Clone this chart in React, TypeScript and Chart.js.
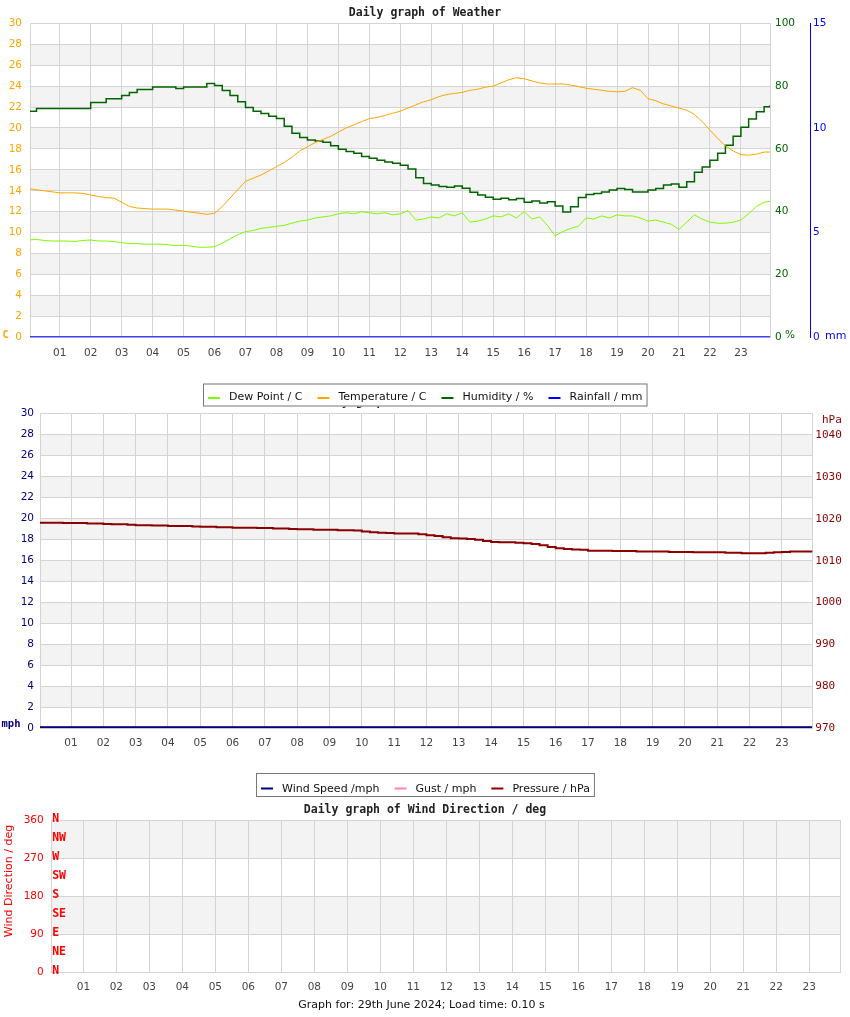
import { useEffect, useRef } from 'react';
import { Chart, registerables } from 'chart.js';

Chart.register(...registerables);

// ---------- data ----------
const HOUR_TICKS = [1, 2, 3, 4, 5, 6, 7, 8, 9, 10, 11, 12, 13, 14, 15, 16, 17, 18, 19, 20, 21, 22, 23];
const X_MIN = 0.04;
const X_MAX = 23.94;
// quarter-hour sample times (hours) + last reading
const TIMES = Array.from({ length: 96 }, (_, i) => i / 4).concat([23.94]);
const HOURLY_TIMES = [0, 1, 2, 3, 4, 5, 6, 7, 8, 9, 10, 11, 12, 13, 14, 15, 16, 17, 18, 19, 20, 21, 22, 23, 23.94];

const TEMPERATURE = [
  14.2, 14.1, 14.0, 13.9,
  13.8, 13.8, 13.8, 13.75,
  13.6, 13.45, 13.35, 13.3,
  12.9, 12.5, 12.35, 12.3,
  12.25, 12.25, 12.25, 12.15,
  12.05, 11.95, 11.85, 11.75,
  11.85, 12.5, 13.3, 14.1,
  14.9, 15.2, 15.5, 15.9,
  16.3, 16.7, 17.2, 17.8,
  18.2, 18.6, 18.9, 19.2,
  19.6, 20.0, 20.3, 20.6,
  20.9, 21.0, 21.2, 21.4,
  21.6, 21.9, 22.2, 22.5,
  22.7, 23.0, 23.2, 23.3,
  23.4, 23.6, 23.7, 23.9,
  24.0, 24.3, 24.6, 24.8,
  24.7, 24.5, 24.3, 24.2,
  24.2, 24.2, 24.1, 23.95,
  23.8, 23.7, 23.6, 23.5,
  23.45, 23.5, 23.85, 23.6,
  22.8, 22.6, 22.3, 22.1,
  21.9, 21.7, 21.3, 20.6,
  19.8, 19.0, 18.3, 17.8,
  17.45, 17.4, 17.5, 17.7,
  17.7,
];

const DEW_POINT = [
  9.3, 9.35, 9.25, 9.2,
  9.2, 9.2, 9.15, 9.25,
  9.3, 9.2, 9.2, 9.15,
  9.05, 8.95, 8.95, 8.9,
  8.9, 8.9, 8.85, 8.75,
  8.8, 8.7, 8.6, 8.6,
  8.65, 9.0, 9.4, 9.8,
  10.1, 10.2, 10.4, 10.5,
  10.6, 10.7, 10.9, 11.1,
  11.2, 11.4, 11.5, 11.6,
  11.8, 11.9, 11.8, 12.0,
  11.9, 11.8, 11.9, 11.7,
  11.8, 12.1, 11.2, 11.3,
  11.5, 11.4, 11.8, 11.6,
  11.9, 11.0, 11.1, 11.3,
  11.6, 11.5, 11.8, 11.4,
  12.0, 11.3, 11.5, 10.7,
  9.7, 10.1, 10.4, 10.6,
  11.4, 11.3, 11.6, 11.4,
  11.7, 11.6, 11.6, 11.4,
  11.1, 11.2, 11.0, 10.8,
  10.3, 11.0, 11.7, 11.3,
  11.0, 10.9, 10.9, 11.0,
  11.2, 11.8, 12.5, 12.9,
  13.0,
];

const HUMIDITY = [
  72.0, 72.9, 72.9, 72.9,
  72.9, 72.9, 72.9, 72.9,
  74.8, 74.8, 76.0, 76.0,
  77.0, 78.0, 78.9, 78.9,
  79.7, 79.7, 79.7, 79.2,
  79.7, 79.7, 79.7, 80.8,
  80.2, 78.6, 77.0, 75.0,
  73.2, 72.0, 71.3, 70.4,
  69.7, 67.2, 65.0, 63.6,
  62.8, 62.5, 62.1, 61.0,
  59.9, 59.2, 58.6, 57.6,
  57.0, 56.4, 55.8, 55.4,
  54.8, 53.6, 50.8, 49.0,
  48.5, 48.0, 47.8, 48.2,
  47.5, 46.2, 45.3, 44.6,
  44.0, 44.3, 43.8, 44.2,
  43.0, 43.4, 42.8, 43.2,
  41.8, 39.9, 41.6, 44.5,
  45.5, 45.8, 46.3, 46.9,
  47.4, 47.1, 46.3, 46.3,
  46.9, 47.4, 48.5, 48.8,
  47.8, 49.5, 52.6, 54.2,
  56.4, 58.6, 61.2, 64.0,
  66.9, 69.5, 71.8, 73.4,
  73.9,
];

const RAINFALL = [0, 0, 0, 0, 0, 0, 0, 0, 0, 0, 0, 0, 0, 0, 0, 0, 0, 0, 0, 0, 0, 0, 0, 0, 0];

const WIND_SPEED = [0.1, 0.1, 0.1, 0.1, 0.1, 0.1, 0.1, 0.1, 0.1, 0.1, 0.1, 0.1, 0.1, 0.1, 0.1, 0.1, 0.1, 0.1, 0.1, 0.1, 0.1, 0.1, 0.1, 0.1, 0.1];
const GUST = [0.1, 0.1, 0.1, 0.1, 0.1, 0.1, 0.1, 0.1, 0.1, 0.1, 0.1, 0.1, 0.1, 0.1, 0.1, 0.1, 0.1, 0.1, 0.1, 0.1, 0.1, 0.1, 0.1, 0.1, 0.1];

const PRESSURE = [
  1019.1, 1019.1, 1019.1, 1019.0,
  1019.0, 1019.0, 1018.9, 1018.9,
  1018.8, 1018.7, 1018.7, 1018.6,
  1018.5, 1018.5, 1018.4, 1018.4,
  1018.3, 1018.3, 1018.3, 1018.2,
  1018.1, 1018.1, 1018.0, 1018.0,
  1017.9, 1017.9, 1017.9, 1017.8,
  1017.8, 1017.7, 1017.7, 1017.6,
  1017.5, 1017.5, 1017.4, 1017.4,
  1017.4, 1017.3, 1017.3, 1017.2,
  1017.0, 1016.8, 1016.7, 1016.6,
  1016.5, 1016.5, 1016.5, 1016.3,
  1016.1, 1015.9, 1015.6, 1015.4,
  1015.3, 1015.2, 1015.0, 1014.7,
  1014.5, 1014.4, 1014.4, 1014.3,
  1014.2, 1014.0, 1013.7, 1013.3,
  1013.0, 1012.8, 1012.7, 1012.6,
  1012.4, 1012.4, 1012.4, 1012.3,
  1012.3, 1012.3, 1012.2, 1012.2,
  1012.2, 1012.2, 1012.1, 1012.1,
  1012.1, 1012.0, 1012.0, 1012.0,
  1012.0, 1011.9, 1011.9, 1011.8,
  1011.8, 1011.8, 1011.9, 1012.0,
  1012.1, 1012.2, 1012.2, 1012.2,
  1012.1,
];

const HPA_TICKS = [970, 980, 990, 1000, 1010, 1020, 1030, 1040];
const COMPASS_LABELS = ['N', 'NE', 'E', 'SE', 'S', 'SW', 'W', 'NW', 'N'];
const COMPASS_DEGREES = [0, 45, 90, 135, 180, 225, 270, 315, 360];

// ---------- styles ----------
const GRID = '#d4d4d4';
const BAND = '#f3f3f3';
const ORANGE = '#ffa500';
const DEW_GREEN = '#7cfc00';
const DARK_GREEN = '#006400';
const BLUE = '#0000ff';
const NAVY = '#000080';
const PINK = '#ff88a8';
const DARK_RED = '#8b0000';
const RED = '#ff0000';
const TICK_FONT = { family: 'DejaVu Sans', size: 10.5 };
const TITLE_FONT = { family: 'DejaVu Sans Mono', size: 11.5, weight: 'bold' as const };
const LEGEND_FONT = '11px "DejaVu Sans"';

const xy = (xs: number[], ys: number[]) => ys.map((y, i) => ({ x: xs[i], y }));

function xAxis(padding: number) {
  return {
    type: 'linear',
    min: X_MIN,
    max: X_MAX,
    afterBuildTicks: (s: any) => {
      s.ticks = HOUR_TICKS.map((v) => ({ value: v }));
    },
    afterFit: (s: any) => {
      s.height = 30;
    },
    ticks: {
      color: '#444',
      font: TICK_FONT,
      padding,
      autoSkip: false,
      maxRotation: 0,
      callback: (v: any) => String(v).padStart(2, '0'),
    },
    grid: { color: GRID, drawTicks: false },
    border: { color: GRID },
  };
}

function makeBands(scaleId: string) {
  return {
    id: 'bands',
    beforeDraw(chart: any) {
      const s = chart.scales[scaleId];
      const { left, right } = chart.chartArea;
      const ctx = chart.ctx;
      ctx.save();
      ctx.fillStyle = BAND;
      for (let i = 1; i < s.ticks.length - 1; i += 2) {
        const a = s.getPixelForValue(s.ticks[i].value);
        const b = s.getPixelForValue(s.ticks[i + 1].value);
        ctx.fillRect(left, Math.min(a, b), right - left, Math.abs(b - a));
      }
      ctx.restore();
    },
  };
}

type TextItem = { text: string; x: number; y: number; color: string; font: string; align?: string; baseline?: string; rotate?: number };

function makeTexts(items: TextItem[]) {
  return {
    id: 'texts',
    afterDraw(chart: any) {
      const ctx = chart.ctx;
      for (const t of items) {
        ctx.save();
        ctx.font = t.font;
        ctx.fillStyle = t.color;
        ctx.textAlign = t.align || 'left';
        ctx.textBaseline = t.baseline || 'alphabetic';
        ctx.translate(t.x, t.y);
        if (t.rotate) ctx.rotate(t.rotate);
        ctx.fillText(t.text, 0, 0);
        ctx.restore();
      }
    },
  };
}

function makeBoxLegend(cfg: { boxTop: number; boxHeight: number; baseline: number; markerY: number; centerX: number }) {
  return {
    id: 'boxLegend',
    afterDraw(chart: any) {
      const ctx = chart.ctx;
      const items = chart.data.datasets.map((d: any) => ({ label: d.label, color: d.borderColor }));
      ctx.save();
      ctx.font = LEGEND_FONT;
      const widths = items.map((it: any) => ctx.measureText(it.label).width);
      const MARK = 12, GAP = 9, SEP = 15, PAD = 5;
      const total = PAD * 2 + widths.reduce((a: number, w: number) => a + MARK + GAP + w, 0) + SEP * (items.length - 1);
      const left = Math.round(cfg.centerX - total / 2);
      ctx.fillStyle = '#ffffff';
      ctx.fillRect(left, cfg.boxTop, total, cfg.boxHeight);
      ctx.strokeStyle = '#777';
      ctx.lineWidth = 1;
      ctx.strokeRect(left + 0.5, cfg.boxTop + 0.5, total - 1, cfg.boxHeight - 1);
      let x = left + PAD;
      items.forEach((it: any, i: number) => {
        ctx.fillStyle = it.color;
        ctx.fillRect(x, cfg.markerY - 1, MARK, 2);
        x += MARK + GAP;
        ctx.fillStyle = '#111';
        ctx.textBaseline = 'alphabetic';
        ctx.textAlign = 'left';
        ctx.fillText(it.label, x, cfg.baseline);
        x += widths[i] + SEP;
      });
      ctx.restore();
    },
  };
}

const compassPlugin = {
  id: 'compass',
  afterDraw(chart: any) {
    const s = chart.scales.yDir;
    const ctx = chart.ctx;
    ctx.save();
    ctx.font = 'bold 11.5px "DejaVu Sans Mono"';
    ctx.fillStyle = RED;
    ctx.textBaseline = 'alphabetic';
    COMPASS_LABELS.forEach((lab, i) => {
      ctx.fillText(lab, chart.chartArea.left + 0.5, s.getPixelForValue(COMPASS_DEGREES[i]) + 2);
    });
    ctx.restore();
  },
};

const baseOptions = {
  responsive: false,
  animation: false,
  events: [],
};

function config1(): any {
  return {
    type: 'line',
    data: {
      datasets: [
        { label: 'Dew Point / C', data: xy(TIMES, DEW_POINT), borderColor: DEW_GREEN, borderWidth: 1, pointRadius: 0, yAxisID: 'yC' },
        { label: 'Temperature / C', data: xy(TIMES, TEMPERATURE), borderColor: ORANGE, borderWidth: 1, pointRadius: 0, yAxisID: 'yC' },
        { label: 'Humidity / %', data: xy(TIMES, HUMIDITY), borderColor: DARK_GREEN, borderWidth: 1.5, pointRadius: 0, stepped: true, yAxisID: 'yH' },
        { label: 'Rainfall / mm', data: xy(HOURLY_TIMES, RAINFALL), borderColor: BLUE, borderWidth: 2, pointRadius: 0, yAxisID: 'yR' },
      ],
    },
    options: {
      ...baseOptions,
      layout: { padding: { left: 0, right: 0, top: 0, bottom: 44.7 } },
      plugins: {
        legend: { display: false },
        tooltip: { enabled: false },
        title: { display: true, text: 'Daily graph of Weather', font: TITLE_FONT, color: '#222', padding: { top: 6, bottom: 3.5 } },
      },
      scales: {
        x: xAxis(9.5),
        yC: {
          type: 'linear', position: 'left', min: 0, max: 30,
          ticks: { stepSize: 2, color: ORANGE, font: TICK_FONT, padding: 8 },
          grid: { color: GRID, drawTicks: false },
          border: { color: GRID },
          afterFit: (s: any) => { s.width = 30; },
        },
        yH: {
          type: 'linear', position: 'right', min: 0, max: 100, weight: 0,
          ticks: { stepSize: 20, color: DARK_GREEN, font: TICK_FONT, padding: 5 },
          grid: { drawOnChartArea: false, drawTicks: false },
          border: { color: GRID },
          afterFit: (s: any) => { s.width = 40; },
        },
        yR: {
          type: 'linear', position: 'right', min: 0, max: 15, weight: 1,
          ticks: { stepSize: 5, color: BLUE, font: TICK_FONT, padding: 3 },
          grid: { drawOnChartArea: false, drawTicks: false },
          border: { color: BLUE },
          afterFit: (s: any) => { s.width = 40; },
        },
      },
    },
    plugins: [
      makeBands('yC'),
      makeTexts([
        { text: 'C', x: 2.5, y: 337.5, color: ORANGE, font: 'bold 10px "DejaVu Sans Mono"' },
        { text: '%', x: 785, y: 338, color: DARK_GREEN, font: '10.5px "DejaVu Sans"' },
        { text: 'mm', x: 825, y: 338.5, color: BLUE, font: '11px "DejaVu Sans"' },
      ]),
      makeBoxLegend({ boxTop: 383.5, boxHeight: 23, baseline: 400, markerY: 398, centerX: 425.5 }),
    ],
  };
}

function config2(): any {
  return {
    type: 'line',
    data: {
      datasets: [
        { label: 'Wind Speed /mph', data: xy(HOURLY_TIMES, WIND_SPEED), borderColor: NAVY, borderWidth: 2, pointRadius: 0, yAxisID: 'yW' },
        { label: 'Gust / mph', data: xy(HOURLY_TIMES, GUST), borderColor: PINK, borderWidth: 2, pointRadius: 0, yAxisID: 'yW' },
        { label: 'Pressure / hPa', data: xy(TIMES, PRESSURE), borderColor: DARK_RED, borderWidth: 2, pointRadius: 0, stepped: true, yAxisID: 'yP' },
      ],
    },
    options: {
      ...baseOptions,
      layout: { padding: { left: 0, right: 0, top: 0, bottom: 43.7 } },
      plugins: {
        legend: { display: false },
        tooltip: { enabled: false },
        title: { display: true, text: 'Daily graph of Wind and Pressure', font: TITLE_FONT, color: '#222', padding: { top: 14.8, bottom: 4.7 } },
      },
      scales: {
        x: xAxis(9),
        yW: {
          type: 'linear', position: 'left', min: 0, max: 30,
          ticks: { stepSize: 2, color: NAVY, font: TICK_FONT, padding: 6 },
          grid: { color: GRID, drawTicks: false },
          border: { color: GRID },
          afterFit: (s: any) => { s.width = 40; },
        },
        yP: {
          type: 'linear', position: 'right', min: 970, max: 1045.2,
          afterBuildTicks: (s: any) => { s.ticks = HPA_TICKS.map((v) => ({ value: v })); },
          ticks: { color: DARK_RED, font: { family: 'DejaVu Sans Mono', size: 11 }, padding: 3, callback: (v: any) => String(v) },
          grid: { drawOnChartArea: false, drawTicks: false },
          border: { color: GRID },
          afterFit: (s: any) => { s.width = 37.7; },
        },
      },
    },
    plugins: [
      makeBands('yW'),
      makeTexts([
        { text: 'mph', x: 1.5, y: 346.5, color: NAVY, font: 'bold 10.5px "DejaVu Sans Mono"' },
        { text: 'hPa', x: 822, y: 43, color: DARK_RED, font: '11px "DejaVu Sans Mono"' },
      ]),
      makeBoxLegend({ boxTop: 393, boxHeight: 24, baseline: 411.5, markerY: 408.5, centerX: 425.7 }),
    ],
  };
}

function config3(): any {
  return {
    type: 'line',
    data: {
      datasets: [
        { label: 'Wind Direction / deg', data: [], borderColor: RED, borderWidth: 1, pointRadius: 0, yAxisID: 'yDir' },
      ],
    },
    options: {
      ...baseOptions,
      layout: { padding: { left: 0, right: 0, top: 0, bottom: 14.7 } },
      plugins: {
        legend: { display: false },
        tooltip: { enabled: false },
        title: { display: true, text: 'Daily graph of Wind Direction / deg', font: TITLE_FONT, color: '#222', padding: { top: 3.1, bottom: 3.4 } },
      },
      scales: {
        x: xAxis(9),
        yDir: {
          type: 'linear', position: 'left', min: 0, max: 360,
          ticks: { stepSize: 90, color: RED, font: TICK_FONT, padding: 8 },
          grid: { color: GRID, drawTicks: false },
          border: { color: GRID },
          afterFit: (s: any) => { s.width = 51.7; },
        },
        yEdge: {
          type: 'linear', position: 'right', min: 0, max: 1,
          ticks: { display: false },
          grid: { drawOnChartArea: false, drawTicks: false },
          border: { color: GRID },
          afterFit: (s: any) => { s.width = 9.7; },
        },
      },
    },
    plugins: [
      makeBands('yDir'),
      compassPlugin,
      makeTexts([
        { text: 'Wind Direction / deg', x: 9, y: 81, color: RED, font: '11px "DejaVu Sans"', align: 'center', baseline: 'middle', rotate: -Math.PI / 2 },
        { text: 'Graph for: 29th June 2024; Load time: 0.10 s', x: 421.5, y: 207.5, color: '#111', font: '11px "DejaVu Sans"', align: 'center' },
      ]),
    ],
  };
}

export default function App() {
  const r1 = useRef<HTMLCanvasElement>(null);
  const r2 = useRef<HTMLCanvasElement>(null);
  const r3 = useRef<HTMLCanvasElement>(null);

  useEffect(() => {
    document.body.style.margin = '0';
    const charts = [
      new Chart(r3.current!, config3()),
      new Chart(r2.current!, config2()),
      new Chart(r1.current!, config1()),
    ];
    return () => charts.forEach((c) => c.destroy());
  }, []);

  return (
    <div style={{ position: 'relative', width: 850, height: 1017, background: '#fff', overflow: 'hidden' }}>
      <canvas ref={r3} width={850} height={217} style={{ position: 'absolute', left: 0, top: 800, zIndex: 0, display: 'block' }} />
      <canvas ref={r2} width={850} height={422} style={{ position: 'absolute', left: 0, top: 380, zIndex: 1, display: 'block' }} />
      <canvas ref={r1} width={850} height={412} style={{ position: 'absolute', left: 0, top: 0, zIndex: 2, display: 'block' }} />
    </div>
  );
}
